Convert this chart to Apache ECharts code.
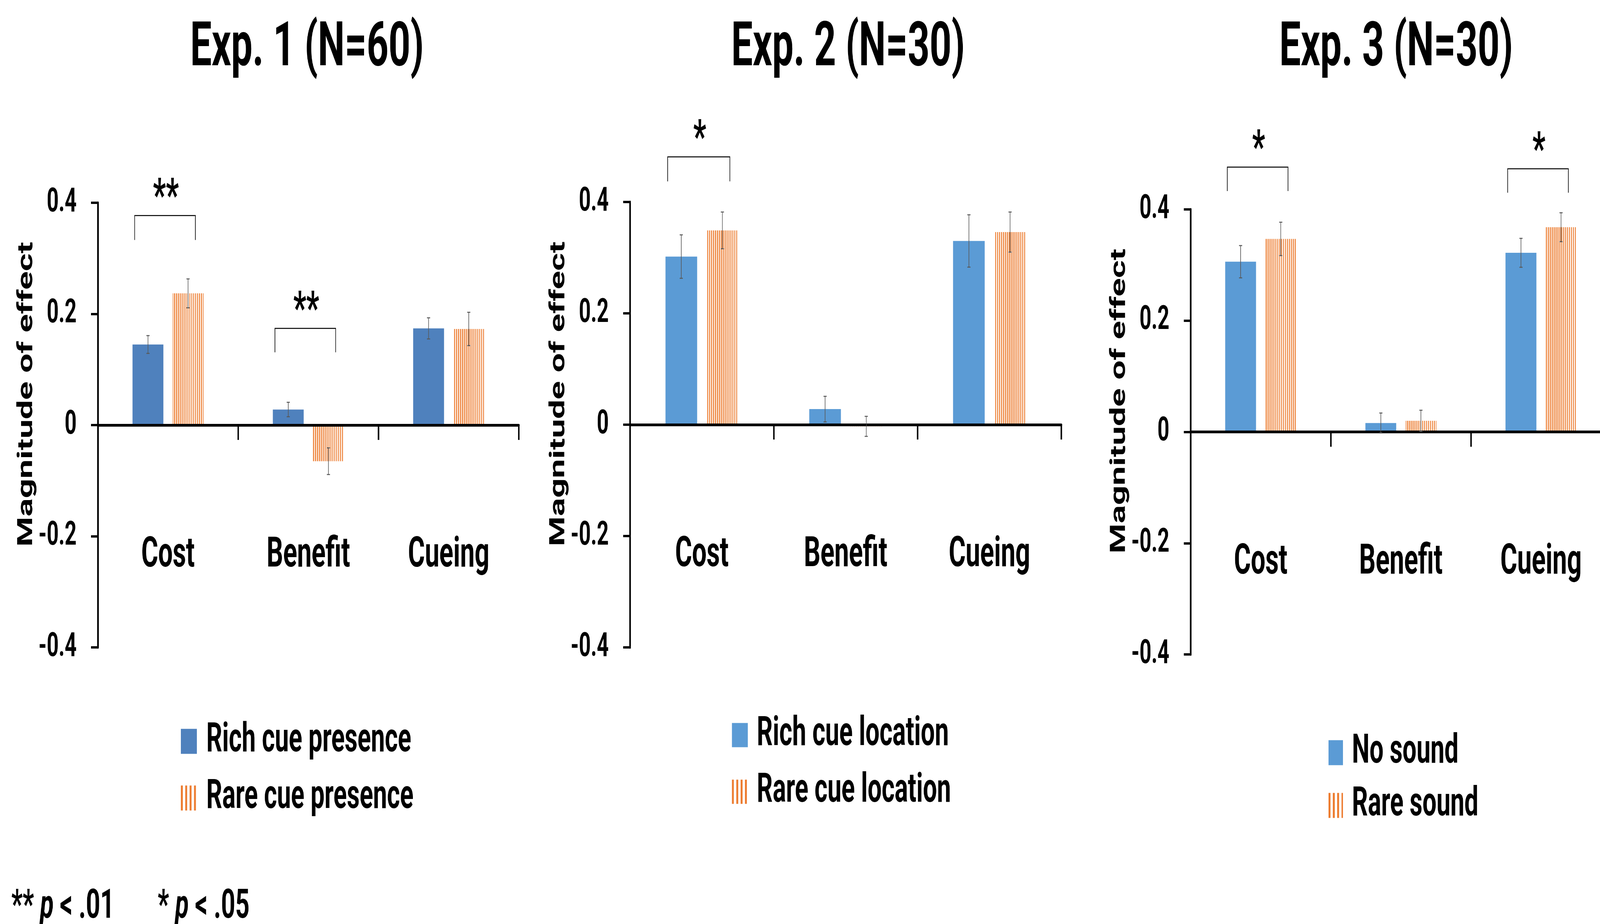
<!DOCTYPE html>
<html><head><meta charset="utf-8">
<script src="https://cdn.jsdelivr.net/npm/echarts@6/dist/echarts.min.js"></script>
<style>html,body{margin:0;padding:0;background:#fff;overflow:hidden}#wrap{position:absolute;left:0;top:0;width:100vw;height:100vh;overflow:hidden}#c{width:6624px;height:2365px;transform-origin:0 0}</style>
</head><body><div id="wrap"><div id="c"></div></div>
<script>
// ---------------- data ----------------
const categories = ['Cost', 'Benefit', 'Cueing'];
const yTicks = [-0.4, -0.2, 0, 0.2, 0.4];
const yTickLabels = ['-0.4', '-0.2', '0', '0.2', '0.4'];
const yAxisTitle = 'Magnitude of effect';

const exp1Title = 'Exp. 1 (N=60)';
const exp1Names = ['Rich cue presence', 'Rare cue presence'];
const exp1Rich = [0.145, 0.028, 0.174];
const exp1RichErr = [0.016, 0.013, 0.019];
const exp1Rare = [0.237, -0.065, 0.173];
const exp1RareErr = [0.026, 0.024, 0.030];
const exp1Sig = [[0, '**', 0.377, 0.333], [1, '**', 0.174, 0.131]];

const exp2Title = 'Exp. 2 (N=30)';
const exp2Names = ['Rich cue location', 'Rare cue location'];
const exp2Rich = [0.302, 0.028, 0.330];
const exp2RichErr = [0.039, 0.023, 0.047];
const exp2Rare = [0.349, -0.003, 0.346];
const exp2RareErr = [0.033, 0.018, 0.036];
const exp2Sig = [[0, '*', 0.481, 0.437]];

const exp3Title = 'Exp. 3 (N=30)';
const exp3Names = ['No sound', 'Rare sound'];
const exp3NoSound = [0.306, 0.016, 0.322];
const exp3NoSoundErr = [0.029, 0.018, 0.026];
const exp3Rare = [0.347, 0.020, 0.368];
const exp3RareErr = [0.030, 0.019, 0.026];
const exp3Sig = [[0, '*', 0.476, 0.433], [2, '*', 0.473, 0.430]];

const footnote = '{b|**}{i| p}{b| < .01}{b|       *}{i| p}{b| < .05}';

// ---------------- layout / style ----------------
const DESIGN_W = 6624, DESIGN_H = 2365;
const FONT = 'Roboto';
const ORANGE = '#ED7D31';
const BAR_W = 0.22, BAR_GAP = 0.30;
const layouts = [
  {grid: {left: 405, top: 519, width: 1743, height: 1138}, blue: '#4F81BD', titleX: 1271,
   legend: {left: 749, top: 1846, itemWidth: 66, itemHeight: 64, itemGap: 42, pad: 34}},
  {grid: {left: 2608, top: 517, width: 1786, height: 1140}, blue: '#5B9BD5', titleX: 3511,
   legend: {left: 3030, top: 1830, itemWidth: 66, itemHeight: 62, itemGap: 42, pad: 32}},
  {grid: {left: 4929, top: 536, width: 1741, height: 1139}, blue: '#5B9BD5', titleX: 5780,
   legend: {left: 5500, top: 1875, itemWidth: 60, itemHeight: 64, itemGap: 32, pad: 32}}
];
const panels = [
  {title: exp1Title, names: exp1Names, a: exp1Rich, aErr: exp1RichErr, b: exp1Rare, bErr: exp1RareErr, sig: exp1Sig},
  {title: exp2Title, names: exp2Names, a: exp2Rich, aErr: exp2RichErr, b: exp2Rare, bErr: exp2RareErr, sig: exp2Sig},
  {title: exp3Title, names: exp3Names, a: exp3NoSound, aErr: exp3NoSoundErr, b: exp3Rare, bErr: exp3RareErr, sig: exp3Sig}
];

// fit the 6624x2365 design into the actual window if the browser caps its size
(function fit() {
  const el = document.getElementById('c');
  const sx = Math.min(1, window.innerWidth / DESIGN_W);
  const sy = Math.min(1, window.innerHeight / DESIGN_H);
  if (sx < 1 || sy < 1) el.style.transform = 'scale(' + sx + ',' + sy + ')';
})();

function stripes(period, stripe) {
  const c = document.createElement('canvas');
  c.width = period; c.height = period;
  const ctx = c.getContext('2d');
  ctx.fillStyle = '#ffffff'; ctx.fillRect(0, 0, period, period);
  ctx.fillStyle = ORANGE; ctx.fillRect(0, 0, stripe, period);
  return c;
}
const barPattern = {image: stripes(8, 4), repeat: 'repeat'};
const legendPattern = {image: stripes(18, 8), repeat: 'repeat'};

function errSeries(idx, vals, errs, side) {
  return {
    type: 'custom', xAxisIndex: idx, yAxisIndex: idx, z: 6, silent: true,
    data: vals.map((v, i) => [i, v, errs[i]]),
    renderItem: function (params, api) {
      const cat = api.value(0), v = api.value(1), e = api.value(2);
      const band = api.size([1, 0])[0];
      const w = band * BAR_W;
      const off = side * (w + w * BAR_GAP) / 2;
      const c0 = api.coord([cat, v + e]);
      const c1 = api.coord([cat, v - e]);
      const x = c0[0] + off, cap = 6.5;
      const st = {stroke: '#595959', lineWidth: 2.5};
      return {type: 'group', children: [
        {type: 'line', shape: {x1: x, y1: c0[1], x2: x, y2: c1[1]}, style: st},
        {type: 'line', shape: {x1: x - cap, y1: c0[1], x2: x + cap, y2: c0[1]}, style: st},
        {type: 'line', shape: {x1: x - cap, y1: c1[1], x2: x + cap, y2: c1[1]}, style: st}
      ]};
    }
  };
}

function sigSeries(idx, sig) {
  return {
    type: 'custom', xAxisIndex: idx, yAxisIndex: idx, z: 6, silent: true, clip: false,
    data: sig.map(s => [s[0], s[2], s[3]]),
    renderItem: function (params, api) {
      const cat = api.value(0), top = api.value(1), leg = api.value(2);
      const band = api.size([1, 0])[0];
      const c = api.coord([cat, top]);
      const yl = api.coord([cat, leg])[1];
      const x1 = c[0] - 0.238 * band, x2 = c[0] + 0.195 * band;
      return {type: 'group', children: [
        {type: 'polyline', shape: {points: [[x1, yl], [x1, c[1]], [x2, c[1]], [x2, yl]]},
         style: {stroke: '#000', lineWidth: 2.5, fill: null}},
        {type: 'text', style: {x: c[0] - 0.015 * band, y: c[1] - 41, text: sig[params.dataIndex][1],
          font: 'bold 118px ' + FONT, fill: '#000', textAlign: 'center', textVerticalAlign: 'middle',
          align: 'center', verticalAlign: 'middle'}}
      ]};
    }
  };
}

const option = {
  animation: false,
  backgroundColor: '#ffffff',
  grid: [], xAxis: [], yAxis: [], series: [], legend: [], graphic: []
};

panels.forEach((p, i) => {
  const L = layouts[i];
  option.grid.push(Object.assign({containLabel: false, outerBoundsMode: 'none'}, L.grid));
  const zeroToBottom = L.grid.height / 2;
  option.xAxis.push({
    type: 'category', gridIndex: i, data: categories, z: 5,
    axisLine: {show: true, onZero: true, lineStyle: {color: '#000', width: 7}},
    axisTick: {show: true, length: 38, lineStyle: {color: '#000', width: 6}},
    axisLabel: {show: true, margin: 282 - zeroToBottom, color: '#000', fontFamily: FONT, fontWeight: 'bold', fontSize: 107},
    splitLine: {show: false}
  });
  option.yAxis.push({
    type: 'value', gridIndex: i, min: -0.4, max: 0.4, interval: 0.2, z: 5,
    name: yAxisTitle, nameLocation: 'middle', nameRotate: 90, nameGap: 250,
    nameTextStyle: {color: '#000', fontFamily: FONT, fontWeight: 'bold', fontSize: 88, padding: [0, 0, 0, 158]},
    axisLine: {show: true, lineStyle: {color: '#000', width: 7}},
    axisTick: {show: true, length: 28, lineStyle: {color: '#000', width: 6}},
    axisLabel: {show: true, margin: 88, color: '#000', fontFamily: FONT, fontWeight: 'bold', fontSize: 86,
      formatter: v => { const k = yTicks.findIndex(t => Math.abs(t - v) < 1e-9); return k >= 0 ? yTickLabels[k] : ''; }},
    splitLine: {show: false}
  });
  option.series.push(
    {type: 'bar', name: p.names[0], xAxisIndex: i, yAxisIndex: i, data: p.a, z: 2,
     barWidth: (BAR_W * 100) + '%', barGap: (BAR_GAP * 100) + '%', itemStyle: {color: L.blue}},
    {type: 'bar', name: p.names[1], xAxisIndex: i, yAxisIndex: i, data: p.b, z: 2,
     barWidth: (BAR_W * 100) + '%', barGap: (BAR_GAP * 100) + '%', itemStyle: {color: barPattern}},
    errSeries(i, p.a, p.aErr, -1),
    errSeries(i, p.b, p.bErr, 1),
    sigSeries(i, p.sig)
  );
  option.legend.push({
    orient: 'vertical', left: L.legend.left, top: L.legend.top, padding: 0,
    itemWidth: L.legend.itemWidth, itemHeight: L.legend.itemHeight, itemGap: L.legend.itemGap,
    selectedMode: false,
    textStyle: {color: '#000', fontFamily: FONT, fontWeight: 'bold', fontSize: 103,
      padding: [0, 0, 0, L.legend.pad]},
    data: [{name: p.names[0], icon: 'rect'},
           {name: p.names[1], icon: 'rect', itemStyle: {color: legendPattern}}]
  });
  option.graphic.push({type: 'text', x: L.titleX, y: 127, silent: true,
    style: {text: p.title, font: 'bold 158px ' + FONT, fill: '#000', textAlign: 'center', textVerticalAlign: 'middle',
      align: 'center', verticalAlign: 'middle'}});
});

option.graphic.push({type: 'text', x: 47, y: 2323, silent: true,
  style: {text: footnote, fill: '#000', textVerticalAlign: 'middle', verticalAlign: 'middle',
    rich: {b: {fontFamily: FONT, fontWeight: 'bold', fontSize: 103, fill: '#000', color: '#000'},
           i: {fontFamily: FONT, fontWeight: 'bold', fontStyle: 'italic', fontSize: 103, fill: '#000', color: '#000'}}}});

const chart = echarts.init(document.getElementById('c'), null, {width: DESIGN_W, height: DESIGN_H});
chart.setOption(option);
</script>
</body></html>
